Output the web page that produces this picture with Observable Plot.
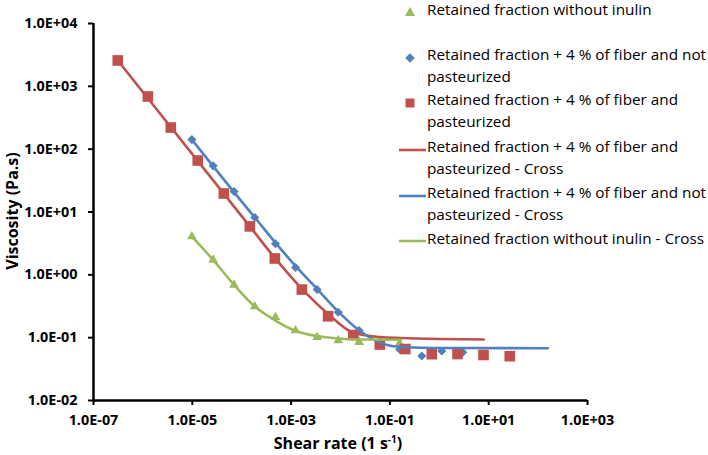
<!DOCTYPE html>
<html><head><meta charset="utf-8">
<script src="https://cdn.jsdelivr.net/npm/d3@7"></script>
<script src="https://cdn.jsdelivr.net/npm/@observablehq/plot@0.6"></script>
<style>
body{margin:0;background:#fff;}
#wrap{position:relative;width:708px;height:455px;font-family:"Open Sans",sans-serif;color:#000;}
#wrap svg text{font-weight:bold !important;fill:#000;font-size:14.4px !important;}
.leg{position:absolute;left:427px;font-size:15.3px;line-height:21.6px;white-space:nowrap;color:#000;}
.icon{position:absolute;}
.ttl{position:absolute;font-weight:bold;font-size:16px;white-space:nowrap;}
</style></head><body><div id="wrap"></div>
<script>
// Shear rate (1/s) and viscosity (Pa.s)
const noInulinX = [9.8e-6, 2.64e-5, 7.0e-5, 1.84e-4, 4.83e-4, 1.23e-3, 3.36e-3, 9.0e-3, 2.38e-2, 6.25e-2, 0.158];
const noInulinY = [4.07, 1.73, 0.693, 0.313, 0.211, 0.130, 0.1016, 0.090, 0.0847, 0.083, 0.0807];
const notPastX = [9.8e-6, 2.64e-5, 7.0e-5, 1.84e-4, 4.83e-4, 1.23e-3, 3.36e-3, 9.0e-3, 2.38e-2, 6.25e-2, 0.158, 0.443, 1.12, 2.99];
const notPastY = [142, 54.3, 21.2, 8.17, 3.12, 1.31, 0.583, 0.254, 0.130, 0.087, 0.0647, 0.051, 0.0614, 0.0586];
const pastX = [3.1e-7, 1.26e-6, 3.67e-6, 1.29e-5, 4.35e-5, 1.46e-4, 4.68e-4, 1.65e-3, 5.61e-3, 1.82e-2, 6.25e-2, 0.205, 0.705, 2.34, 7.85, 26.7];
const pastY = [2580, 689, 221, 66, 19.7, 5.9, 1.82, 0.583, 0.219, 0.110, 0.0778, 0.0659, 0.0546, 0.0549, 0.053, 0.0507];
// Cross model fits
const pastCrossX = [3.1e-7, 1.46e-4, 4.68e-4, 1.57e-3, 5.53e-3, 1.77e-2, 6.55e-2, 0.166, 1.07, 7.94];
const pastCrossY = [2580, 5.9, 1.86, 0.628, 0.242, 0.121, 0.102, 0.0986, 0.095, 0.0933];
const notPastCrossX = [9.8e-6, 1.84e-4, 1.25e-3, 3.31e-3, 8.8e-3, 2.34e-2, 6.55e-2, 0.166, 1.07, 157];
const notPastCrossY = [142, 8.17, 1.36, 0.605, 0.265, 0.1325, 0.0822, 0.071, 0.0684, 0.0679];
const noInulinCrossX = [9.8e-6, 2.64e-5, 7.0e-5, 1.84e-4, 4.47e-4, 1.245e-3, 3.31e-3, 8.8e-3, 2.34e-2, 0.166];
const noInulinCrossY = [4.07, 1.73, 0.693, 0.313, 0.194, 0.128, 0.106, 0.097, 0.0933, 0.0924];

const xTicks = [1e-7, 1e-5, 1e-3, 1e-1, 1e1, 1e3];
const xTickLabels = ["1.0E-07", "1.0E-05", "1.0E-03", "1.0E-01", "1.0E+01", "1.0E+03"];
const yTicks = [1e-2, 1e-1, 1e0, 1e1, 1e2, 1e3, 1e4];
const yTickLabels = ["1.0E-02", "1.0E-01", "1.0E+00", "1.0E+01", "1.0E+02", "1.0E+03", "1.0E+04"];

const legendLabels = [
  "Retained fraction without inulin",
  "Retained fraction + 4 % of fiber and not<br>pasteurized",
  "Retained fraction + 4 % of fiber and<br>pasteurized",
  "Retained fraction + 4 % of fiber and<br>pasteurized - Cross",
  "Retained fraction + 4 % of fiber and not<br>pasteurized - Cross",
  "Retained fraction without inulin - Cross"
];

const RED = "#C0504D", BLUE = "#4F81BD", GREEN = "#9BBB59";
const pts = (xs, ys) => xs.map((x, i) => ({x, y: ys[i]}));
const labelFor = (ticks, labels) => d => {
  let best = 0;
  ticks.forEach((t, i) => { if (Math.abs(Math.log10(t) - Math.log10(d)) < Math.abs(Math.log10(ticks[best]) - Math.log10(d))) best = i; });
  return labels[best];
};

const chart = Plot.plot({
  width: 708, height: 455,
  marginLeft: 93, marginRight: 121, marginTop: 23, marginBottom: 55,
  style: {fontFamily: "'Open Sans', sans-serif", fontSize: "14.4px", color: "#000"},
  x: {type: "log", domain: [1e-7, 1e3]},
  y: {type: "log", domain: [1e-2, 1e4]},
  marks: [
    Plot.axisX({ticks: xTicks, tickFormat: labelFor(xTicks, xTickLabels), tickSize: 5, tickPadding: 9, strokeWidth: 2, label: null, fontSize: 14.4}),
    Plot.axisY({ticks: yTicks, tickFormat: labelFor(yTicks, yTickLabels), tickSize: 5, tickPadding: 11, strokeWidth: 2, label: null, fontSize: 14.4}),
    Plot.ruleX([1e-7], {strokeWidth: 2.5, stroke: "#000"}),
    Plot.ruleY([1e-2], {strokeWidth: 2.5, stroke: "#000"}),
    Plot.dot(pts(noInulinX, noInulinY), {x: "x", y: "y", symbol: "triangle", r: 3.6, fill: GREEN, stroke: null}),
    Plot.dot(pts(notPastX, notPastY), {x: "x", y: "y", symbol: "diamond2", r: 4.1, fill: BLUE, stroke: null}),
    Plot.dot(pts(pastX, pastY), {x: "x", y: "y", symbol: "square", r: 6.0, fill: RED, stroke: null}),
    Plot.line(pts(pastCrossX, pastCrossY), {x: "x", y: "y", stroke: RED, strokeWidth: 2.6, curve: "monotone-x"}),
    Plot.line(pts(notPastCrossX, notPastCrossY), {x: "x", y: "y", stroke: BLUE, strokeWidth: 2.6, curve: "monotone-x"}),
    Plot.line(pts(noInulinCrossX, noInulinCrossY), {x: "x", y: "y", stroke: GREEN, strokeWidth: 2.6, curve: "monotone-x"})
  ]
});
const wrap = document.getElementById("wrap");
chart.style.position = "absolute"; chart.style.left = "0"; chart.style.top = "0";
wrap.appendChild(chart);

// legend
const rowTops = [-1.5, 44, 89, 136, 182, 227.5];
const icons = [
  `<svg width="14" height="14"><path d="M7,2 L12,11 L2,11 Z" fill="${GREEN}"/></svg>`,
  `<svg width="14" height="14"><path d="M7,2.2 L11.8,7 L7,11.8 L2.2,7 Z" fill="${BLUE}"/></svg>`,
  `<svg width="14" height="14"><rect x="2.5" y="2.5" width="9" height="9" fill="${RED}"/></svg>`,
  `<svg width="28" height="14"><line x1="0" y1="7" x2="27" y2="7" stroke="${RED}" stroke-width="2.6"/></svg>`,
  `<svg width="28" height="14"><line x1="0" y1="7" x2="27" y2="7" stroke="${BLUE}" stroke-width="2.6"/></svg>`,
  `<svg width="28" height="14"><line x1="0" y1="7" x2="27" y2="7" stroke="${GREEN}" stroke-width="2.6"/></svg>`
];
legendLabels.forEach((lab, i) => {
  const d = document.createElement("div");
  d.className = "leg"; d.style.top = rowTops[i] + "px"; d.innerHTML = lab;
  wrap.appendChild(d);
  const ic = document.createElement("div");
  ic.className = "icon";
  ic.style.left = (i < 3 ? 403 : 399) + "px";
  ic.style.top = (rowTops[i] + 10.8 - 7) + "px";
  ic.innerHTML = icons[i];
  wrap.appendChild(ic);
});

// axis titles
const yt = document.createElement("div");
yt.className = "ttl"; yt.textContent = "Viscosity (Pa.s)";
yt.style.left = "12px"; yt.style.top = "211px";
yt.style.transform = "translate(-50%,-50%) rotate(-90deg)";
wrap.appendChild(yt);
const xt = document.createElement("div");
xt.className = "ttl"; xt.innerHTML = "Shear rate (1 s<sup style='font-size:10px'>-1</sup>)";
xt.style.left = "338px"; xt.style.top = "443px";
xt.style.transform = "translate(-50%,-50%)";
wrap.appendChild(xt);
</script>
</body></html>
